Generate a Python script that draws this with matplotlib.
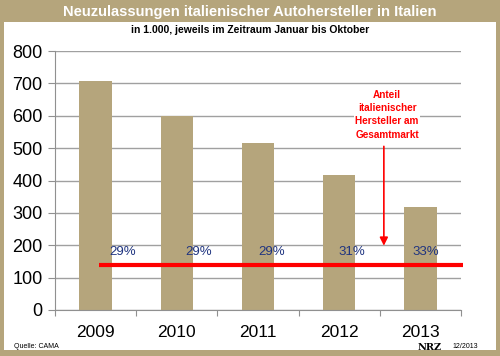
import matplotlib
matplotlib.use("Agg")
import matplotlib.pyplot as plt
from matplotlib.patches import Rectangle

# data
years = ["2009", "2010", "2011", "2012", "2013"]
registrations = [706, 600, 517, 418, 318]   # in 1.000
share_labels = ["29%", "29%", "29%", "31%", "33%"]
share_level = 140
label_offsets = [0.33, 0.27, 0.17, 0.15, 0.07]  # label shift right of bar centre

tan = "#b5a57c"
plt.rcParams['font.family'] = ['Liberation Sans', 'DejaVu Sans']

fig = plt.figure(figsize=(5.0, 3.56), dpi=100)
fig.patch.set_facecolor(tan)
# white panel
fig.patches.append(Rectangle((4/500, 6/356), 492/500, 328/356, transform=fig.transFigure,
                             facecolor="white", edgecolor="none", zorder=-1))

fig.text(0.5, 1 - 12/356, "Neuzulassungen italienischer Autohersteller in Italien",
         ha="center", va="center", color="white", fontsize=10.6, fontweight="bold")
fig.text(0.5, 1 - 30/356, "in 1.000, jeweils im Zeitraum Januar bis Oktober",
         ha="center", va="center", color="black", fontsize=7.5, fontweight="bold")

ax = fig.add_axes([55/500, 46/356, 406/500, 259/356])
ax.set_facecolor("none")
x = range(len(years))
ax.bar(x, registrations, width=0.4, color=tan, zorder=2)
ax.set_xlim(-0.5, 4.5)
ax.set_ylim(0, 800)
ax.set_yticks(range(0, 801, 100))
ax.yaxis.grid(True, color="#a0a0a0", linewidth=1, zorder=0)
ax.set_axisbelow(True)
for s in ["top", "right"]:
    ax.spines[s].set_visible(False)
ax.spines["left"].set_color("#909090")
ax.spines["bottom"].set_color("#909090")
ax.tick_params(axis="y", length=5, color="#909090", labelsize=13, pad=4)
ax.set_xticks([i - 0.5 for i in range(6)], minor=False)
ax.set_xticklabels([])
ax.set_xticks(list(x), minor=True)
ax.set_xticklabels(years, minor=True, fontsize=12.5)
ax.tick_params(axis="x", which="major", length=4, color="#909090", direction="out")
ax.tick_params(axis="x", which="minor", length=0, pad=11)

# share line and labels
ax.plot([0.04, 4.52], [share_level, share_level], color="#ff0000", linewidth=3,
        zorder=4, clip_on=False, solid_capstyle="butt")
for i, lab in enumerate(share_labels):
    ax.text(i + label_offsets[i], 178, lab, ha="center", va="center",
            color="#1f3480", fontsize=9.5, zorder=5)

# annotation
ax.text(3.59, 603, "Anteil\nitalienischer\nHersteller am\nGesamtmarkt", ha="center",
        va="center", color="#ff0000", fontsize=7.2, fontweight="bold", linespacing=1.4,
        bbox=dict(facecolor="white", edgecolor="none", pad=1), zorder=5)
ax.annotate("", xy=(3.55, 190), xytext=(3.55, 514),
            arrowprops=dict(arrowstyle="-|>", color="#ff0000", lw=1.2,
                            mutation_scale=12), zorder=5)

fig.text(14/500, 1 - 347/356, "Quelle: CAMA", fontsize=5, va="center", ha="left")
fig.text(418/500, 1 - 347/356, "NRZ", fontsize=7, va="center", ha="left",
         family="DejaVu Serif", fontweight="bold")
fig.text(452/500, 1 - 347/356, "12/2013", fontsize=5, va="center", ha="left")

fig.savefig("out.png", dpi=100, facecolor=fig.get_facecolor())
